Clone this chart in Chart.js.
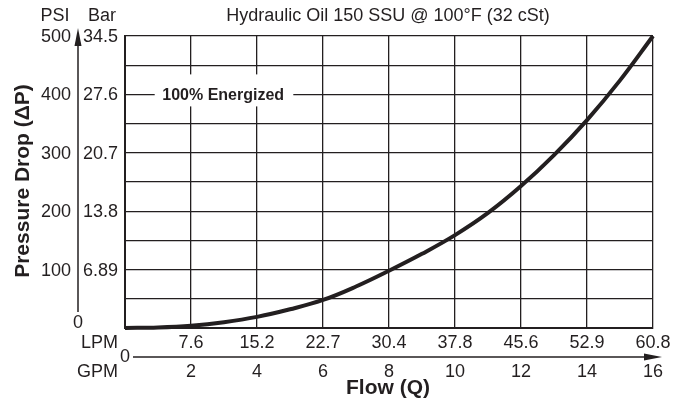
<!DOCTYPE html>
<html>
<head>
<meta charset="utf-8">
<script src="https://cdn.jsdelivr.net/npm/chart.js@4.4.1/dist/chart.umd.min.js"></script>
<style>
  html, body { margin: 0; padding: 0; background: #fff; }
  canvas { display: block; }
</style>
</head>
<body>
<canvas id="dpChart" width="686" height="400"></canvas>
<script>
// flow in GPM vs pressure drop in PSI
const flowGpm = [0, 1, 2, 3, 4, 5, 6, 7, 8, 9, 10, 11, 12, 13, 14, 15, 16];
const dropPsi = [0, 1, 4, 10, 19, 32, 48, 71, 98, 127, 159, 197, 243, 296, 356, 424, 500];

// axis labels
const psiTicks = [100, 200, 300, 400, 500];
const barTicks = ['6.89', '13.8', '20.7', '27.6', '34.5'];
const gpmTicks = [2, 4, 6, 8, 10, 12, 14, 16];
const lpmTicks = ['7.6', '15.2', '22.7', '30.4', '37.8', '45.6', '52.9', '60.8'];

const title = 'Hydraulic Oil 150 SSU @ 100°F (32 cSt)';
const curveLabel = '100% Energized';
const INK = '#231f20';
const FONT = '"Liberation Sans", Arial, Helvetica, sans-serif';

const labelsPlugin = {
    id: 'sheetLabels',
    beforeDatasetsDraw(chart) {
        // white patch behind the curve label, covering the grid
        const {ctx} = chart;
        const x = chart.scales.x, y = chart.scales.y;
        const cy = y.getPixelForValue(400);
        ctx.save();
        ctx.fillStyle = '#fff';
        ctx.fillRect(x.getPixelForValue(0.9), cy - 20, x.getPixelForValue(5.1) - x.getPixelForValue(0.9), 32);
        ctx.fillStyle = INK;
        ctx.font = 'bold 16px ' + FONT;
        ctx.textAlign = 'center';
        ctx.textBaseline = 'middle';
        ctx.fillText(curveLabel, (x.getPixelForValue(1.15) + x.getPixelForValue(4.8)) / 2, cy + 1);
        ctx.restore();
    },
    afterDraw(chart) {
        const {ctx, chartArea} = chart;
        const x = chart.scales.x, y = chart.scales.y;
        ctx.save();
        ctx.fillStyle = INK;
        ctx.strokeStyle = INK;
        ctx.font = '18px ' + FONT;
        ctx.textBaseline = 'middle';

        // header row
        ctx.textAlign = 'center';
        ctx.fillText('PSI', 55, 16);
        ctx.fillText('Bar', 102, 16);
        ctx.fillText(title, 388, 16);

        // PSI / Bar columns
        psiTicks.forEach((v, i) => {
            const py = y.getPixelForValue(v);
            ctx.textAlign = 'right';
            ctx.fillText(String(v), 71, py + 1);
            ctx.textAlign = 'left';
            ctx.fillText(barTicks[i], 83, py + 1);
        });
        ctx.textAlign = 'center';
        ctx.fillText('0', 78, 323);

        // vertical arrow
        ctx.lineWidth = 1.5;
        ctx.beginPath();
        ctx.moveTo(78, 312);
        ctx.lineTo(78, 40);
        ctx.stroke();
        ctx.beginPath();
        ctx.moveTo(78, 28);
        ctx.lineTo(81.5, 46);
        ctx.lineTo(74.5, 46);
        ctx.closePath();
        ctx.fill();

        // LPM / GPM rows
        const lpmY = chartArea.bottom + 15;
        const gpmY = chartArea.bottom + 44;
        const axisY = chartArea.bottom + 29;
        gpmTicks.forEach((v, i) => {
            const px = x.getPixelForValue(v);
            ctx.textAlign = 'center';
            ctx.fillText(lpmTicks[i], px, lpmY);
            ctx.fillText(String(v), px, gpmY);
        });
        ctx.textAlign = 'right';
        ctx.fillText('LPM', 118, lpmY);
        ctx.fillText('GPM', 118, gpmY);
        ctx.textAlign = 'center';
        ctx.fillText('0', 125, axisY);

        // horizontal arrow
        ctx.beginPath();
        ctx.moveTo(133, axisY);
        ctx.lineTo(648, axisY);
        ctx.stroke();
        ctx.beginPath();
        ctx.moveTo(662, axisY);
        ctx.lineTo(644, axisY - 3.5);
        ctx.lineTo(644, axisY + 3.5);
        ctx.closePath();
        ctx.fill();

        // axis titles
        ctx.font = 'bold 21px ' + FONT;
        ctx.textAlign = 'center';
        ctx.fillText('Flow (Q)', 388, 388);
        ctx.translate(23, 181);
        ctx.rotate(-Math.PI / 2);
        ctx.fillText('Pressure Drop (ΔP)', 0, 0);
        ctx.restore();
    }
};

new Chart(document.getElementById('dpChart').getContext('2d'), {
    type: 'line',
    data: {
        datasets: [{
            label: curveLabel,
            data: flowGpm.map((q, i) => ({x: q, y: dropPsi[i]})),
            borderColor: INK,
            borderWidth: 4,
            pointRadius: 0,
            fill: false,
            tension: 0.4,
            clip: false
        }]
    },
    options: {
        responsive: false,
        animation: false,
        devicePixelRatio: 1,
        layout: { padding: { left: 125, right: 33, top: 36, bottom: 72 } },
        plugins: { legend: { display: false }, tooltip: { enabled: false } },
        scales: {
            x: {
                type: 'linear', min: 0, max: 16,
                ticks: { display: false, stepSize: 2 },
                grid: { color: INK, lineWidth: 1.3, drawTicks: false },
                border: { color: INK, width: 2 }
            },
            y: {
                min: 0, max: 500,
                ticks: { display: false, stepSize: 50 },
                grid: { color: INK, lineWidth: 1.3, drawTicks: false },
                border: { color: INK, width: 2 }
            }
        }
    },
    plugins: [labelsPlugin]
});
</script>
</body>
</html>
